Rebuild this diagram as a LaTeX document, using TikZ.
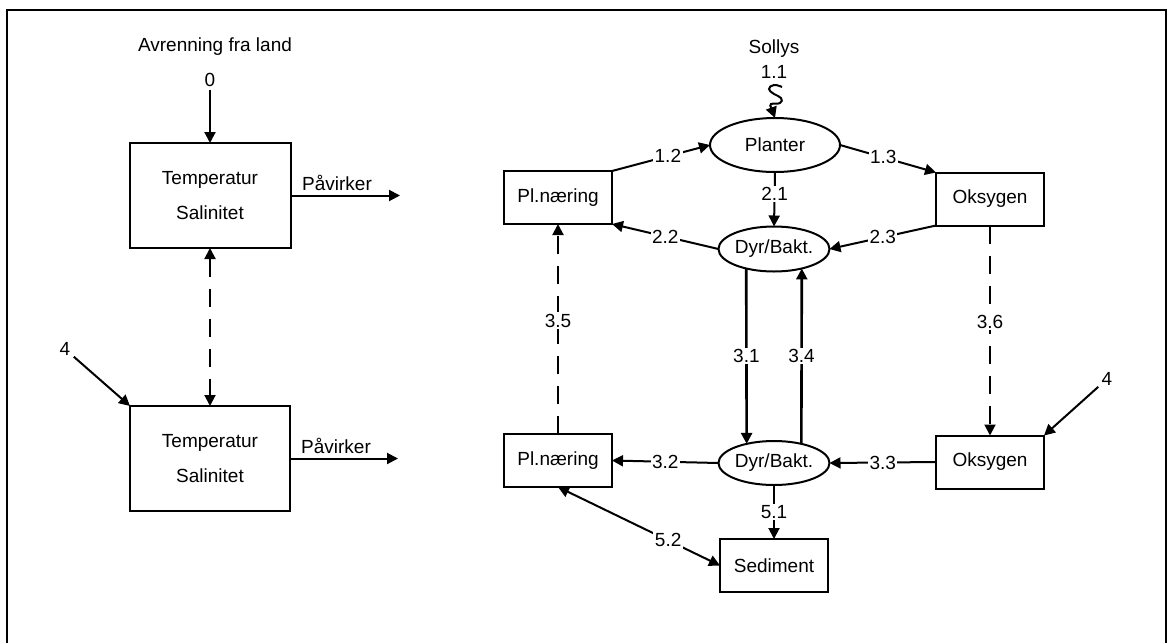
\documentclass[tikz,border=0pt]{standalone}
\usepackage{fontspec}
\setmainfont{Liberation Sans}
\usetikzlibrary{arrows.meta,shapes.geometric}
\begin{document}
\begin{tikzpicture}[x=1pt,y=-1pt,
 every node/.style={font=\fontsize{19}{35}\selectfont},
 box/.style={draw,line width=2pt,outer sep=0pt,inner sep=0pt,align=center,minimum width=108pt,minimum height=53pt},
 ell/.style={draw,ellipse,line width=2pt,outer sep=0pt,inner sep=0pt},
 arr/.style={line width=2pt,-{Triangle[length=11pt,width=11pt]}},
 arrboth/.style={line width=2pt,{Triangle[length=11pt,width=11pt]}-{Triangle[length=11pt,width=11pt]}},
 lab/.style={fill=white,inner sep=1.5pt},
 dsh/.style={dash pattern=on 18pt off 12pt}]
\useasboundingbox (0,0) rectangle (1169,643);
\draw[line width=2pt] (7,643) -- (7,10) -- (1166,10) -- (1166,643);

% left part
\node[box,minimum width=161pt,minimum height=105pt] (ts1) at (210,195.5) {Temperatur\\Salinitet};
\node[box,minimum width=160pt,minimum height=105pt] (ts2) at (210,458.5) {Temperatur\\Salinitet};
\node (avr) at (215,47) {Avrenning fra land};
\node (zero) at (210,80) {0};
\draw[arr] (zero.south) -- (ts1.north);
\node (pav1) at (337,183) {Påvirker};
\coordinate (e1) at (400,195.5);
\draw[arr] (ts1.east) -- (e1);
\node (pav2) at (336,446) {Påvirker};
\coordinate (e2) at (398,458.5);
\draw[arr] (ts2.east) -- (e2);
\draw[arrboth,dsh] (ts1.south) -- (ts2.north);
\node (four1) at (65,349) {4};
\draw[arr] (four1) -- (ts2.north west);

% right part
\node[box] (pn1) at (558,197.5) {Pl.næring};
\node[ell,minimum width=130pt,minimum height=54pt] (pl) at (775,145) {Planter};
\node[box] (ok1) at (990,199) {Oksygen};
\node[ell,minimum width=111pt,minimum height=45pt] (dy1) at (774,249) {Dyr/Bakt.};
\node[box] (pn2) at (558,460.5) {Pl.næring};
\node[ell,minimum width=111pt,minimum height=44pt] (dy2) at (774,463) {Dyr/Bakt.};
\node[box] (ok2) at (990,462) {Oksygen};
\node[box] (sed) at (774,565.5) {Sediment};
\node (sol) at (774,49) {Sollys};
\node (l11) at (774,72) {1.1};
\node (four2) at (1107,379) {4};

\draw[arr] plot[smooth,tension=0.8] coordinates {(782,87) (774,85) (769,89) (774,94) (781,98) (780,103) (771,104) (771,107)} -- (pl.north);

\draw[arr] (pn1.north east) -- node[lab,pos=0.57]{1.2} (pl.west);
\draw[arr] (pl.east) -- node[lab,pos=0.45]{1.3} (ok1.north west);
\draw[arr] (pl.south) -- node[lab,pos=0.4]{2.1} (dy1.north);
\draw[arr] (dy1.west) -- node[lab]{2.2} (pn1.south east);
\draw[arr] (ok1.south west) -- node[lab]{2.3} (dy1.east);
\draw[arr,dsh] (pn2.north) -- node[lab,pos=0.54]{3.5} (pn1.south);
\draw[arr,dsh] (ok1.south) -- node[lab,pos=0.46]{3.6} (ok2.north);
\draw[arr,line width=2.6pt] (dy1.-145) -- node[lab]{3.1} (dy2.145);
\draw[arr,line width=2.6pt] (dy2.35) -- node[lab]{3.4} (dy1.-35);
\draw[arr] (dy2.west) -- node[lab]{3.2} (pn2.east);
\draw[arr] (ok2.west) -- node[lab]{3.3} (dy2.east);
\draw[arr] (dy2.south) -- node[lab]{5.1} (sed.north);
\draw[arrboth] (pn2.south) -- node[lab,pos=0.68]{5.2} (sed.west);
\draw[arr] (four2) -- (ok2.north east);
\end{tikzpicture}
\end{document}
